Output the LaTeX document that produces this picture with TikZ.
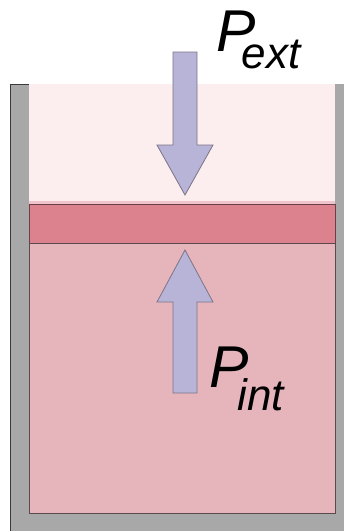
\documentclass[tikz,border=0pt]{standalone}
\usepackage{fontspec}
\setmainfont{Liberation Sans}
\definecolor{wallgray}{HTML}{A8A8A8}
\definecolor{wallline}{HTML}{3A3A3A}
\definecolor{topgas}{HTML}{FCEEEE}
\definecolor{strip}{HTML}{F0C4CA}
\definecolor{piston}{HTML}{DC828E}
\definecolor{pistonline}{HTML}{6A4048}
\definecolor{gas}{HTML}{E6B5BC}
\definecolor{gasline}{HTML}{5A4A4E}
\definecolor{arrowfill}{HTML}{B8B4D8}
\definecolor{arrowline}{HTML}{7A7484}
\tikzset{
  forcearrow/.style={fill=arrowfill, draw=arrowline, line width=0.8pt, line join=miter},
  plabel/.style={anchor=base west, inner sep=0pt, font=\fontsize{59}{59}\selectfont\itshape},
}
\newcommand{\subtxt}[1]{{\fontsize{44}{44}\selectfont #1}}
\begin{document}
\begin{tikzpicture}[x=1pt,y=-1pt]
\useasboundingbox (0,0) rectangle (344,531);
% walls
\fill[wallgray] (10,84) rectangle (350,535);
\draw[wallline, line width=1pt] (10.5,535) -- (10.5,84.5) -- (29,84.5);
% top gas (outside)
\fill[topgas] (29,84) rectangle (335,203);
\fill[strip] (29,200.5) rectangle (335,204);
% piston
\draw[pistonline, fill=piston, line width=0.9pt] (29,204) rectangle (335,243);
% lower gas
\draw[gasline, fill=gas, line width=0.9pt] (29,243) rectangle (335,513);
% arrows
\draw[forcearrow] (173,52) -- (197,52) -- (197,145) -- (213,145) -- (185,195) -- (157,145) -- (173,145) -- cycle;
\draw[forcearrow] (185,250) -- (213,302) -- (197,302) -- (197,393) -- (173,393) -- (173,302) -- (157,302) -- cycle;
% labels
\node[plabel] (pext) at (216,51) {P\hspace{-14pt}\raisebox{-17pt}{\subtxt{ext}}};
\node[plabel] (pint) at (209,387) {P\hspace{-11pt}\raisebox{-23pt}{\subtxt{int}}};
\end{tikzpicture}
\end{document}
